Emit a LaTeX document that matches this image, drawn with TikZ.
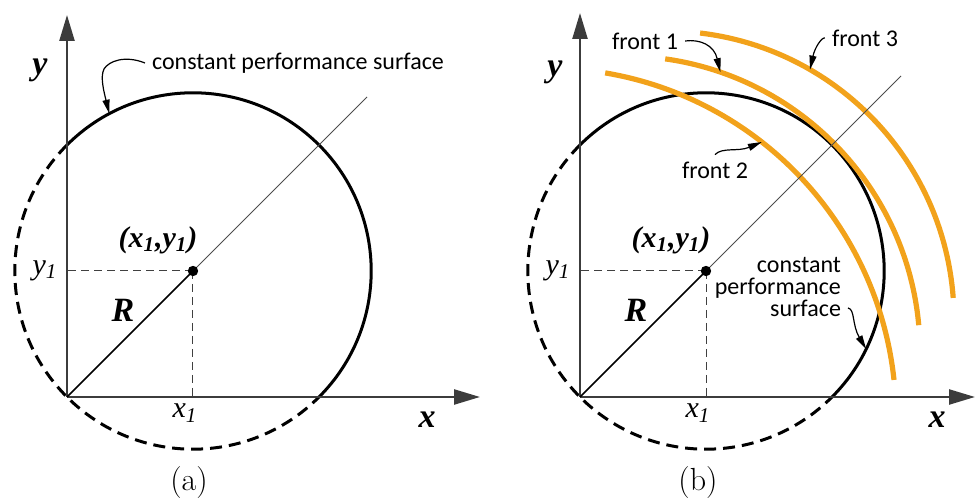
\documentclass[tikz,border=0pt]{standalone}
\usepackage{fontspec}
\newfontfamily\labelfont{Carlito}
\newfontfamily\tms{Liberation Serif}
\usetikzlibrary{arrows.meta}
\definecolor{frontorange}{RGB}{242,162,27}
\definecolor{axisgray}{RGB}{60,60,60}
\tikzset{
  axis/.style={line width=1.2pt, draw=axisgray, -{Triangle[length=13pt,width=7.5pt]}},
  surf/.style={line width=1.5pt},
  hidden/.style={line width=1.5pt, dash pattern=on 6pt off 3.5pt},
  guide/.style={line width=0.5pt, black!75, dash pattern=on 4pt off 2.5pt},
  front/.style={line width=2.6pt, draw=frontorange},
  callout/.style={line width=0.6pt, -{Triangle[length=7pt,width=3.5pt]}},
  lbl/.style={font=\labelfont\fontsize{12}{10.8}\selectfont, text=black},
  mathlbl/.style={font=\tms\bfseries\itshape\fontsize{17}{17}\selectfont},
  sublbl/.style={font=\tms\itshape\fontsize{15}{15}\selectfont},
  caplbl/.style={font=\fontsize{16}{16}\selectfont}
}
\begin{document}
\begin{tikzpicture}[x=50pt, y=50pt]
  \useasboundingbox (-0.67,-1.06) rectangle (9.10,3.97);
  % (a) single constant performance surface
  \begin{scope}
    \coordinate (Oa) at (0,0);
    \coordinate (Ca) at (1.26,1.26);
    \coordinate (Xa) at (4.13,0);
    \coordinate (Ya) at (0,3.82);
    \coordinate (Da) at (3.00,3.00);
    % circle: visible half solid, other half dashed
    \draw[surf] (Ca) ++(135:1.782) arc[start angle=135, end angle=-45, radius=1.782];
    \draw[hidden] (Ca) ++(135:1.782) arc[start angle=135, end angle=315, radius=1.782];
    % axes
    \draw[axis] (Oa) -- (Xa);
    \draw[axis] (Oa) -- (Ya);
    % projections of the centre
    \draw[guide] (Ca) -- (Ca |- Oa);
    \draw[guide] (Ca) -- (Ca -| Oa);
    % radius and diagonal
    \draw[line width=0.8pt] (Oa) -- (Ca);
    \draw[line width=0.4pt, black!70] (Ca) -- (Da);
    \fill (Ca) circle (2.6pt);
    % labels
    \node[mathlbl] (ya) at (-0.27,3.27) {y};
    \node[mathlbl] (xa) at (3.60,-0.23) {x};
    \node[sublbl] (y1a) at (-0.22,1.26) {y\textsubscript{1}};
    \node[sublbl] (x1a) at (1.18,-0.16) {x\textsubscript{1}};
    \node[mathlbl, font=\tms\bfseries\itshape\fontsize{15}{15}\selectfont] (pa) at (0.91,1.57) {(x\textsubscript{1},y\textsubscript{1})};
    \node[mathlbl] (Ra) at (0.56,0.87) {R};
    \node[caplbl] (capa) at (1.22,-0.86) {(a)};
    \node[lbl, anchor=west] (csa) at (0.78,3.34) {constant performance surface};
    \path (Ca) ++(118:1.782) coordinate (tipa);
    \draw[callout] (csa.west) .. controls (0.58,3.42) and (0.42,3.36) .. (0.37,3.28)
      .. controls (0.33,3.20) and (0.37,3.05) .. (tipa);
  \end{scope}
  % (b) surface with three fronts
  \begin{scope}[shift={(5.13,0)}]
    \coordinate (Ob) at (0,0);
    \coordinate (Cb) at (1.26,1.26);
    \coordinate (Xb) at (3.95,0);
    \coordinate (Yb) at (0,3.84);
    \coordinate (Db) at (3.21,3.21);
    \coordinate (f1c) at (0.44,0.45);
    \coordinate (f2c) at (-0.33,-0.20);
    \coordinate (f3c) at (0.86,0.78);
    % circle
    \draw[surf] (Cb) ++(135:1.782) arc[start angle=135, end angle=-45, radius=1.782];
    \draw[hidden] (Cb) ++(135:1.782) arc[start angle=135, end angle=315, radius=1.782];
    % axes
    \draw[axis] (Ob) -- (Xb);
    \draw[axis] (Ob) -- (Yb);
    % fronts
    \draw[front] (f2c) ++(80.4:3.49) arc[start angle=80.4, end angle=6.1, radius=3.49];
    \draw[front] (f1c) ++(82:2.96) arc[start angle=82, end angle=5.2, radius=2.96];
    \draw[front] (f3c) ++(83.2:2.88) arc[start angle=83.2, end angle=4.2, radius=2.88];
    % projections of the centre
    \draw[guide] (Cb) -- (Cb |- Ob);
    \draw[guide] (Cb) -- (Cb -| Ob);
    % radius and diagonal
    \draw[line width=0.8pt] (Ob) -- (Cb);
    \draw[line width=0.4pt, black!70] (Cb) -- (Db);
    \fill (Cb) circle (2.6pt);
    % labels
    \node[mathlbl] (yb) at (-0.25,3.25) {y};
    \node[mathlbl] (xb) at (3.57,-0.23) {x};
    \node[sublbl] (y1b) at (-0.22,1.26) {y\textsubscript{1}};
    \node[sublbl] (x1b) at (1.18,-0.16) {x\textsubscript{1}};
    \node[mathlbl, font=\tms\bfseries\itshape\fontsize{15}{15}\selectfont] (pb) at (0.91,1.57) {(x\textsubscript{1},y\textsubscript{1})};
    \node[mathlbl] (Rb) at (0.56,0.87) {R};
    \node[caplbl] (capb) at (1.18,-0.86) {(b)};
    \node[lbl] (f1) at (0.65,3.56) {front 1};
    \node[lbl] (f2) at (1.35,2.27) {front 2};
    \node[lbl] (f3) at (2.85,3.59) {front 3};
    \node[lbl, align=right, anchor=east] (csb) at (2.68,1.10) {constant\\performance\\surface};
    \path (f1c) ++(71:2.96) coordinate (f1tip);
    \path (f2c) ++(52:3.49) coordinate (f2tip);
    \path (f3c) ++(60:2.88) coordinate (f3tip);
    \path (Cb) ++(-26:1.782) coordinate (cstip);
    \draw[callout] (f1.east) .. controls (1.20,3.58) and (1.34,3.52) .. (f1tip);
    \draw[callout] (f2.north) .. controls (1.42,2.50) and (1.58,2.45) .. (f2tip);
    \draw[callout] (f3.west) .. controls (2.42,3.60) and (2.35,3.50) .. (f3tip);
    \draw[callout] ([yshift=-10.5pt]csb.east) .. controls (2.75,0.88) and (2.72,0.72) .. (cstip);
  \end{scope}
\end{tikzpicture}
\end{document}
